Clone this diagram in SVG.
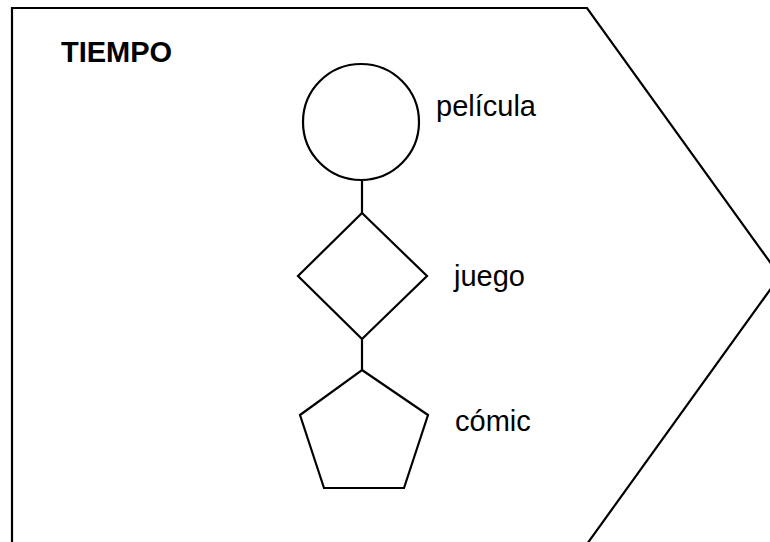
<svg xmlns="http://www.w3.org/2000/svg" width="770" height="542" viewBox="0 0 770 542">
<style>
.s{fill:#fff;stroke:#000;stroke-width:2.2;stroke-linejoin:miter}
.c{fill:none;stroke:#000;stroke-width:2.2}
.t{font-family:"Liberation Sans",Arial,sans-serif;font-size:29px;fill:#000}
.b{font-weight:bold}
</style>
<rect x="0" y="0" width="770" height="542" fill="#fff"/>
<g id="tiempo">
<path class="s" d="M12,8 L587,8 L780,276 L587,544 L12,544 Z"/>
<text class="t b" x="61" y="62">TIEMPO</text>
</g>
<g id="connectors">
<line class="c" x1="362" y1="181" x2="362" y2="213"/>
<line class="c" x1="362" y1="339" x2="362" y2="370"/>
</g>
<g id="pelicula">
<circle class="s" cx="361" cy="122" r="58"/>
<text class="t" x="436" y="116">película</text>
</g>
<g id="juego">
<path class="s" d="M362,213 L427,276 L362,339 L298,276 Z"/>
<text class="t" x="454" y="286">juego</text>
</g>
<g id="comic">
<path class="s" d="M362,370 L428,415 L404,488 L324,488 L300,415 Z"/>
<text class="t" x="455" y="431">cómic</text>
</g>
</svg>
